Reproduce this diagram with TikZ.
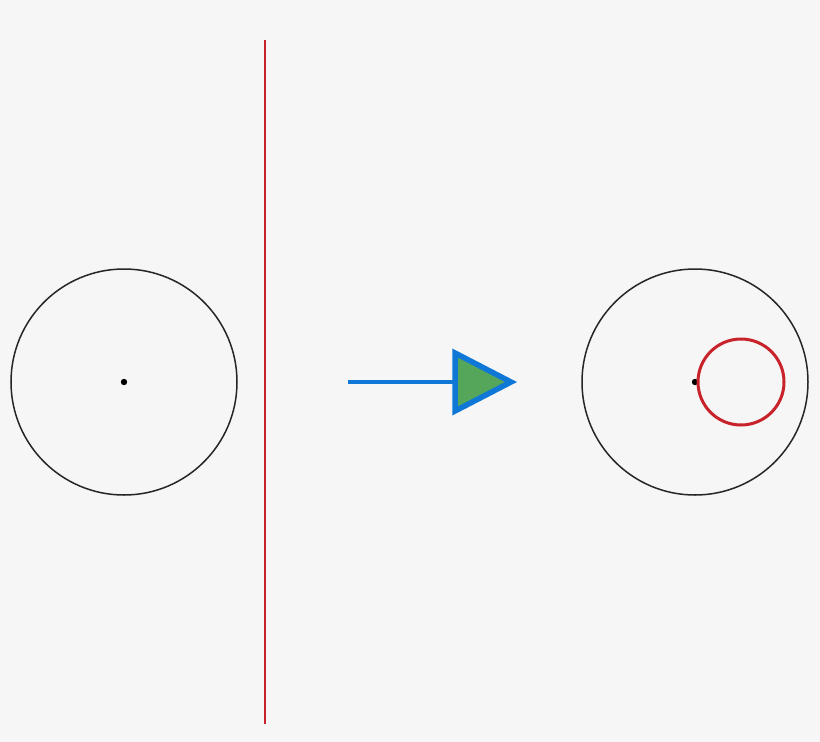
\documentclass[tikz,border=0pt]{standalone}
\usetikzlibrary{calc}
\definecolor{bggray}{HTML}{F6F6F6}
\definecolor{linered}{HTML}{C8232A}
\definecolor{arrowblue}{HTML}{0F78D7}
\definecolor{headgreen}{HTML}{55A65A}

\begin{document}
\begin{tikzpicture}[x=1pt, y=-1pt]
        \fill[bggray] (0,0) rectangle (820,742);
        \useasboundingbox (0,0) rectangle (820,742);

        \coordinate (leftc) at (124,382);
        \coordinate (rightc) at (695,382);
        \coordinate (tail) at (348,382);
        \coordinate (tip) at (511,382);

        \draw[line width=1.5, color=black!85] (leftc) circle (113);
        \fill (leftc) circle (3.2);

        \draw[line width=2, color=linered] (265,40) -- (265,724);

        \draw[line width=4, color=arrowblue] (tail) -- ($(tip)+(-56,0)$);
        \filldraw[line width=5.5, line join=miter, draw=arrowblue, fill=headgreen] ($(tip)+(-56,-29)$) -- (tip) -- ($(tip)+(-56,29)$) -- cycle;

        \draw[line width=1.5, color=black!85] (rightc) circle (113);
        \fill (rightc) circle (3.2);
        \draw[line width=3, color=linered] (741,382) circle (43);
    \end{tikzpicture}
\end{document}
